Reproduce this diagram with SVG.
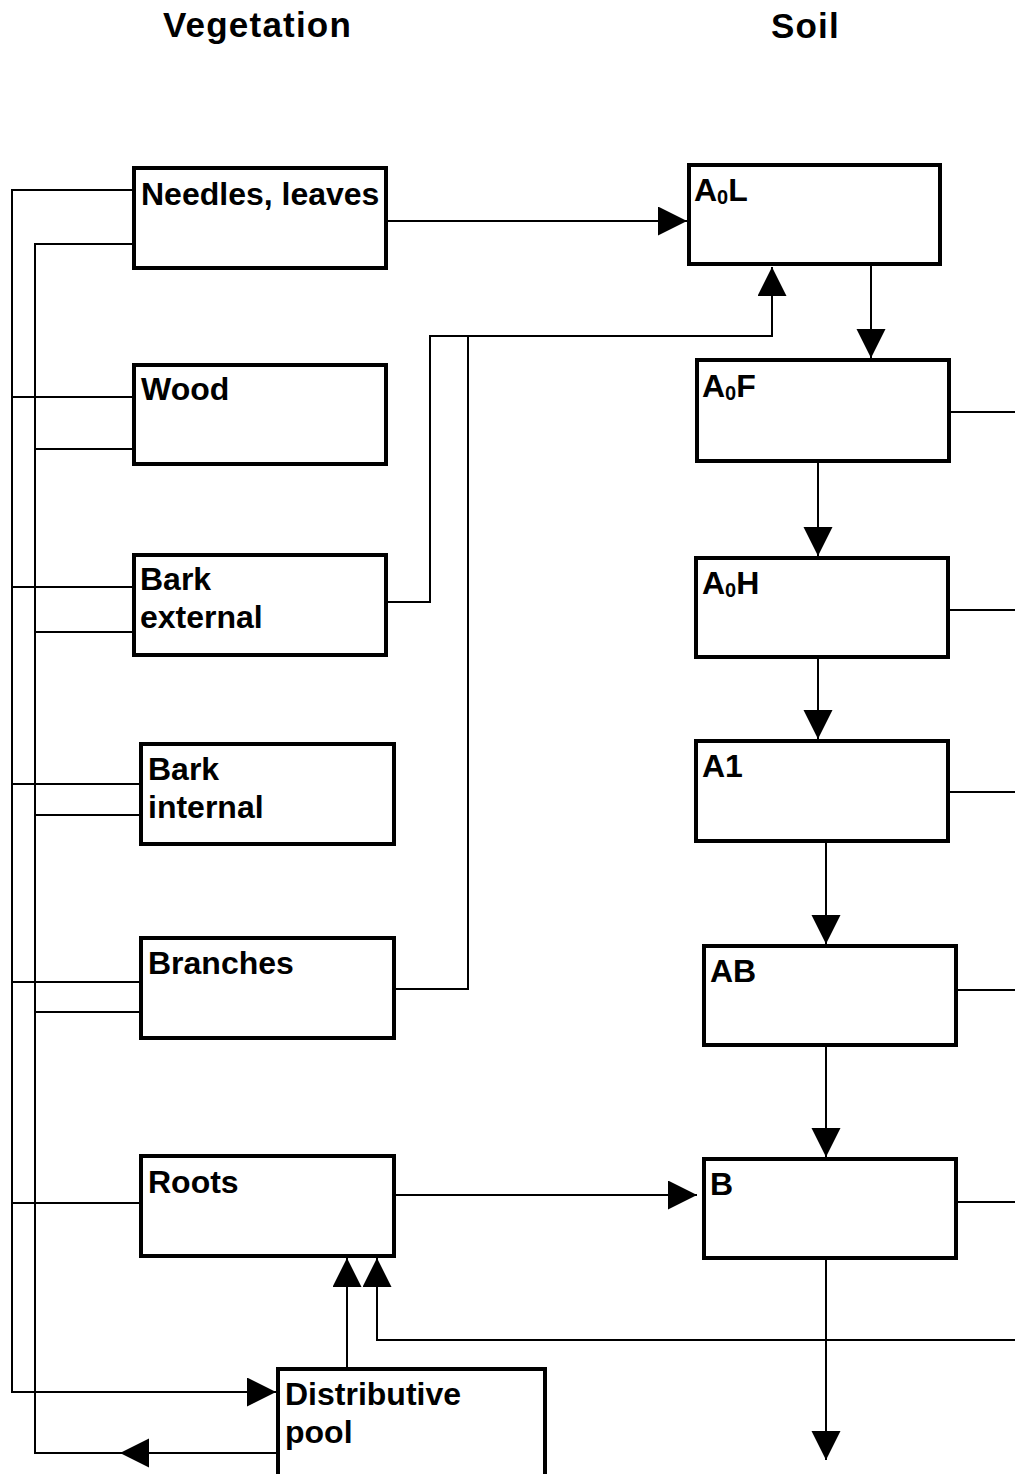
<svg xmlns="http://www.w3.org/2000/svg" width="1015" height="1474" viewBox="0 0 1015 1474">
<style>
.box{fill:#fff;stroke:#000;stroke-width:4}
.t{font-family:"Liberation Sans",Arial,sans-serif;font-weight:bold;font-size:32px;fill:#000}
.title{font-family:"Liberation Sans",Arial,sans-serif;font-weight:bold;font-size:35px;letter-spacing:1.2px;fill:#000}
.c{fill:none;stroke:#000;stroke-width:2}
.sub{font-size:20px}
</style>
<defs>
<marker id="ah" markerUnits="userSpaceOnUse" markerWidth="30" markerHeight="30" refX="29" refY="14.5" orient="auto">
<path d="M0,0 L29,14.5 L0,29 Z" fill="#000"/>
</marker>
</defs>
<rect width="1015" height="1474" fill="#fff"/>
<g id="titles">
<text class="title" x="163" y="37">Vegetation</text>
<text class="title" x="771" y="38">Soil</text>
</g>
<g id="connectors">
<path class="c" d="M388,221 H687" marker-end="url(#ah)"/>
<path class="c" d="M871,266 V358" marker-end="url(#ah)"/>
<path class="c" d="M388,602 H430 V336 H772 V267" marker-end="url(#ah)"/>
<path class="c" d="M396,989 H468 V336"/>
<path class="c" d="M818,463 V556" marker-end="url(#ah)"/>
<path class="c" d="M818,659 V739" marker-end="url(#ah)"/>
<path class="c" d="M826,843 V944" marker-end="url(#ah)"/>
<path class="c" d="M826,1047 V1157" marker-end="url(#ah)"/>
<path class="c" d="M826,1260 V1460" marker-end="url(#ah)"/>
<path class="c" d="M396,1195 H697" marker-end="url(#ah)"/>
<path class="c" d="M951,412 H1015"/>
<path class="c" d="M950,610 H1015"/>
<path class="c" d="M950,792 H1015"/>
<path class="c" d="M958,990 H1015"/>
<path class="c" d="M958,1202 H1015"/>
<path class="c" d="M1015,1340 H377 V1258" marker-end="url(#ah)"/>
<path class="c" d="M347,1367 V1258" marker-end="url(#ah)"/>
<path class="c" d="M132,190 H12 V1392 H276" marker-end="url(#ah)"/>
<path class="c" d="M12,397 H132"/>
<path class="c" d="M12,587 H132"/>
<path class="c" d="M12,784 H139"/>
<path class="c" d="M12,982 H139"/>
<path class="c" d="M12,1203 H139"/>
<path class="c" d="M276,1453 H120" marker-end="url(#ah)"/>
<path class="c" d="M120,1453 H35 V244 H132"/>
<path class="c" d="M35,449 H132"/>
<path class="c" d="M35,632 H132"/>
<path class="c" d="M35,815 H139"/>
<path class="c" d="M35,1012 H139"/>
</g>
<g id="needles"><rect class="box" x="134" y="168" width="252" height="100"/><text class="t" x="141" y="205">Needles, leaves</text></g>
<g id="wood"><rect class="box" x="134" y="365" width="252" height="99"/><text class="t" x="141" y="400">Wood</text></g>
<g id="bark-external"><rect class="box" x="134" y="555" width="252" height="100"/><text class="t" x="140" y="590">Bark</text><text class="t" x="140" y="628">external</text></g>
<g id="bark-internal"><rect class="box" x="141" y="744" width="253" height="100"/><text class="t" x="148" y="780">Bark</text><text class="t" x="148" y="818">internal</text></g>
<g id="branches"><rect class="box" x="141" y="938" width="253" height="100"/><text class="t" x="148" y="974">Branches</text></g>
<g id="roots"><rect class="box" x="141" y="1156" width="253" height="100"/><text class="t" x="148" y="1193">Roots</text></g>
<g id="distributive-pool"><rect class="box" x="278" y="1369" width="267" height="130"/><text class="t" x="285" y="1405">Distributive</text><text class="t" x="285" y="1443">pool</text></g>
<g id="A0L"><rect class="box" x="689" y="165" width="251" height="99"/><text class="t" x="694" y="201">A<tspan class="sub" dy="3">0</tspan><tspan dy="-3">L</tspan></text></g>
<g id="A0F"><rect class="box" x="697" y="360" width="252" height="101"/><text class="t" x="702" y="397">A<tspan class="sub" dy="3">0</tspan><tspan dy="-3">F</tspan></text></g>
<g id="A0H"><rect class="box" x="696" y="558" width="252" height="99"/><text class="t" x="702" y="594">A<tspan class="sub" dy="3">0</tspan><tspan dy="-3">H</tspan></text></g>
<g id="A1"><rect class="box" x="696" y="741" width="252" height="100"/><text class="t" x="702" y="777">A1</text></g>
<g id="AB"><rect class="box" x="704" y="946" width="252" height="99"/><text class="t" x="710" y="982">AB</text></g>
<g id="B"><rect class="box" x="704" y="1159" width="252" height="99"/><text class="t" x="710" y="1195">B</text></g>
</svg>
